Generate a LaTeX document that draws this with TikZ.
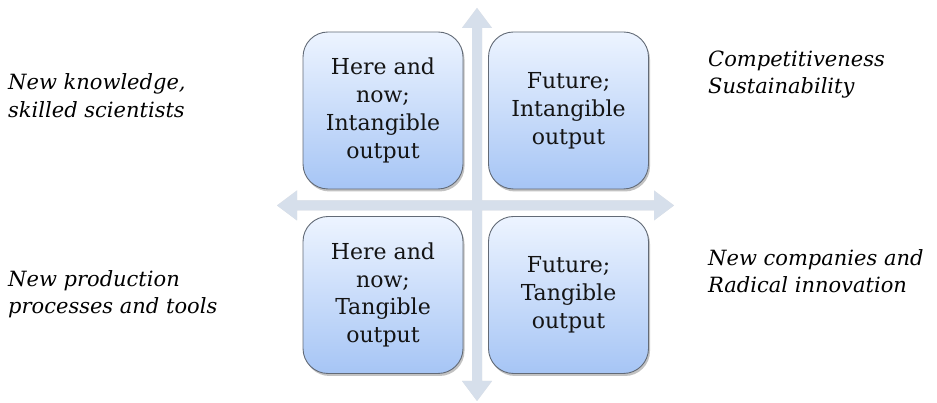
\documentclass[tikz,border=0pt]{standalone}
\usepackage{fontspec}
\setmainfont{DejaVu Serif}
\usetikzlibrary{shadows,calc}
\definecolor{arrowcol}{HTML}{D6DFEB}
\definecolor{boxtop}{HTML}{EDF4FF}
\definecolor{boxbot}{HTML}{A6C5F5}
\definecolor{boxline}{HTML}{626A76}
\begin{document}
\begin{tikzpicture}[x=1pt,y=1pt,
  quad/.style={draw=boxline, line width=0.9pt, rounded corners=25pt,
    minimum width=160pt, minimum height=157pt, inner sep=0pt,
    top color=boxtop, bottom color=boxbot, align=center,
    font=\fontsize{22}{27.8}\selectfont, text=black!92,
    drop shadow={shadow xshift=1.5pt, shadow yshift=-2.5pt, opacity=0.4, fill=black!60}},
  side/.style={align=left, inner sep=0pt, anchor=base west,
    font=\fontsize{21}{27.8}\selectfont\itshape},
  axis/.style={fill=arrowcol, draw=none}]
\useasboundingbox (0,0) rectangle (937,403);
% axis coordinates
\coordinate (vt) at (477,395);
\coordinate (vb) at (477,2);
\coordinate (hl) at (277,197.5);
\coordinate (hr) at (674,197.5);
% shadow of axes
\begin{scope}[shift={(0.8,-1.5)}]
\fill[black, opacity=0.12]
  (hl) -- ++(20,15) -- ++(0,-10) -- ($(hr)+(-20,5)$) -- ++(0,10) -- (hr) -- ++(-20,-15) -- ++(0,10) -- ($(hl)+(20,-5)$) -- ++(0,-10) -- cycle;
\fill[black, opacity=0.12]
  (vt) -- ++(15,-20) -- ++(-10,0) -- ($(vb)+(5,20)$) -- ++(10,0) -- (vb) -- ++(-15,20) -- ++(10,0) -- ($(vt)+(-5,-20)$) -- ++(-10,0) -- cycle;
\end{scope}
% horizontal axis
\fill[axis]
  (hl) -- ++(20,15) -- ++(0,-10) -- ($(hr)+(-20,5)$) -- ++(0,10) -- (hr) -- ++(-20,-15) -- ++(0,10) -- ($(hl)+(20,-5)$) -- ++(0,-10) -- cycle;
% vertical axis
\fill[axis]
  (vt) -- ++(15,-20) -- ++(-10,0) -- ($(vb)+(5,20)$) -- ++(10,0) -- (vb) -- ++(-15,20) -- ++(10,0) -- ($(vt)+(-5,-20)$) -- ++(-10,0) -- cycle;
% boxes
\node[quad] (tl) at (383,292.5) {Here and\\now;\\Intangible\\output};
\node[quad] (tr) at (568.5,292.5) {Future;\\Intangible\\output};
\node[quad] (bl) at (383,108) {Here and\\now;\\Tangible\\output};
\node[quad] (br) at (568.5,108) {Future;\\Tangible\\output};
% side labels (anchor at baseline of last line)
\node[side] (ltl) at (8,285.5) {New knowledge,\\skilled scientists};
\node[side] (rtl) at (708,309) {Competitiveness\\Sustainability};
\node[side] (lbl) at (8,89) {New production\\processes and tools};
\node[side] (rbl) at (708,110) {New companies and\\Radical innovation};
\end{tikzpicture}
\end{document}
